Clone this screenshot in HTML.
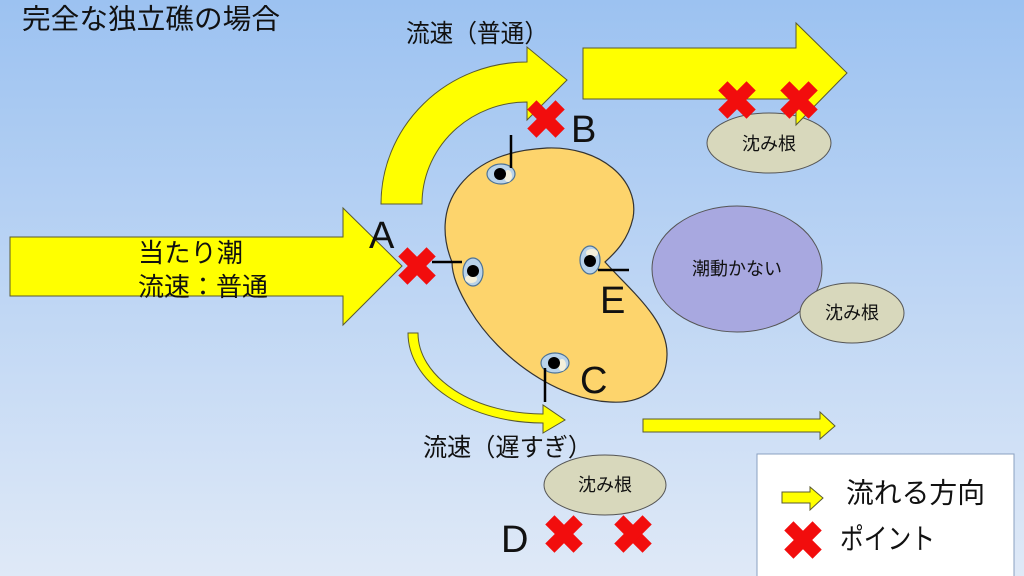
<!DOCTYPE html>
<html><head><meta charset="utf-8"><style>
html,body{margin:0;padding:0;width:1024px;height:576px;overflow:hidden;}
svg{display:block;}
text{font-family:"Liberation Sans","Noto Sans CJK JP",sans-serif;fill:#111;}
</style></head><body>
<svg width="1024" height="576" viewBox="0 0 1024 576" xmlns="http://www.w3.org/2000/svg">
<defs>
<linearGradient id="bg" x1="0" y1="0" x2="0" y2="1">
<stop offset="0" stop-color="#9cc2f1"/>
<stop offset="1" stop-color="#dfe9f7"/>
</linearGradient>
<g id="x"><rect x="-20" y="-6.5" width="40" height="13" transform="rotate(45)" fill="#f20d0d"/><rect x="-20" y="-6.5" width="40" height="13" transform="rotate(-45)" fill="#f20d0d"/></g>
<g id="hole">
<ellipse cx="0" cy="0" rx="14" ry="10" fill="#b9d3ea" stroke="#4d7396" stroke-width="1.2"/>
<ellipse cx="7" cy="2" rx="4" ry="6" fill="#f4f0dc"/>
<circle cx="-1" cy="0" r="6" fill="#000"/>
</g>
</defs>
<rect width="1024" height="576" fill="url(#bg)"/>

<text x="22" y="19" font-size="28" dominant-baseline="central" textLength="258" lengthAdjust="spacingAndGlyphs">完全な独立礁の場合</text>
<text x="406" y="34" font-size="25" dominant-baseline="central" textLength="142" lengthAdjust="spacingAndGlyphs">流速（普通）</text>

<!-- top curved arrow -->
<path d="M381,204 A146,142 0 0 1 527,62 L527,47 L567,80 L527,120 L527,102 A105,102 0 0 0 422,204 Z" fill="#ffff00" stroke="#5a5a30" stroke-width="1"/>

<!-- sunk rock 1 -->
<ellipse cx="769" cy="143" rx="62" ry="30" fill="#d8d8bc" stroke="#555" stroke-width="1"/>
<text x="769" y="144" font-size="18" text-anchor="middle" dominant-baseline="central">沈み根</text>

<!-- top-right arrow -->
<polygon points="583,48 796,48 796,23 847,73 796,125 796,99 583,99" fill="#ffff00" stroke="#5a5a30" stroke-width="1"/>
<use href="#x" x="737" y="100"/>
<use href="#x" x="799" y="100"/>

<!-- left arrow -->
<polygon points="10,237 343,237 343,208 402,266 343,325 343,296 10,296" fill="#ffff00" stroke="#5a5a30" stroke-width="1"/>
<text x="138" y="253" font-size="26" dominant-baseline="central" textLength="105" lengthAdjust="spacingAndGlyphs">当たり潮</text>
<text x="138" y="287" font-size="26" dominant-baseline="central" textLength="130" lengthAdjust="spacingAndGlyphs">流速：普通</text>

<!-- kidney reef -->
<path d="M547,148 C600,146 640,180 633,218 C628,240 616,252 605,262 C630,290 668,320 667,355 C666,390 640,404 610,402 C560,400 500,360 470,310 C458,290 452,275 452,262 C443,240 440,210 460,185 C480,160 510,150 547,148 Z" fill="#fdd46c" stroke="#333" stroke-width="1.2"/>

<use href="#hole" x="501" y="174"/>
<g transform="translate(473,272) rotate(90)"><use href="#hole"/></g>
<g transform="translate(590,260) rotate(-90)"><use href="#hole"/></g>
<use href="#hole" x="555" y="363"/>

<g stroke="#000" stroke-width="2.5">
<line x1="511" y1="135" x2="511" y2="168"/>
<line x1="432" y1="262" x2="462" y2="262"/>
<line x1="598" y1="270" x2="629" y2="270"/>
<line x1="545" y1="368" x2="545" y2="402"/>
</g>

<use href="#x" x="417" y="266"/>
<use href="#x" x="546" y="119"/>

<g font-size="38">
<text x="369" y="248">A</text>
<text x="571" y="142">B</text>
<text x="600" y="313">E</text>
<text x="580" y="393">C</text>
<text x="501" y="552">D</text>
</g>

<!-- purple & rock 2 -->
<ellipse cx="737" cy="269" rx="85" ry="63" fill="#a8a8e0" stroke="#555" stroke-width="1"/>
<text x="737" y="269" font-size="18" text-anchor="middle" dominant-baseline="central">潮動かない</text>
<ellipse cx="852" cy="313" rx="52" ry="30" fill="#d8d8bc" stroke="#555" stroke-width="1"/>
<text x="852" y="313" font-size="18" text-anchor="middle" dominant-baseline="central">沈み根</text>

<!-- bottom curved arrow -->
<path d="M408,333 A135,90 0 0 0 543,423 L543,433 L565,420 L543,405 L543,414 A125,81 0 0 1 418,333 Z" fill="#ffff00" stroke="#5a5a30" stroke-width="1"/>

<!-- bottom right arrow -->
<polygon points="643,419 820,419 820,412 835,426 820,439 820,432 643,432" fill="#ffff00" stroke="#5a5a30" stroke-width="1"/>

<text x="423" y="448" font-size="25" dominant-baseline="central" textLength="169" lengthAdjust="spacingAndGlyphs">流速（遅すぎ）</text>

<ellipse cx="605" cy="485" rx="61" ry="30" fill="#d8d8bc" stroke="#555" stroke-width="1"/>
<text x="605" y="485" font-size="18" text-anchor="middle" dominant-baseline="central">沈み根</text>

<use href="#x" x="564" y="534"/>
<use href="#x" x="633" y="534"/>

<!-- legend -->
<rect x="757" y="454" width="257" height="130" fill="#fff" stroke="#8aa0c0" stroke-width="1"/>
<polygon points="782,492 810,492 810,487 823,498 810,510 810,503 782,503" fill="#ffff00" stroke="#5a5a30" stroke-width="1"/>
<text x="846" y="493" font-size="28" dominant-baseline="central" textLength="139" lengthAdjust="spacingAndGlyphs">流れる方向</text>
<use href="#x" x="803" y="540"/>
<text x="840" y="540" font-size="29" dominant-baseline="central" textLength="95" lengthAdjust="spacingAndGlyphs">ポイント</text>
</svg>
</body></html>
